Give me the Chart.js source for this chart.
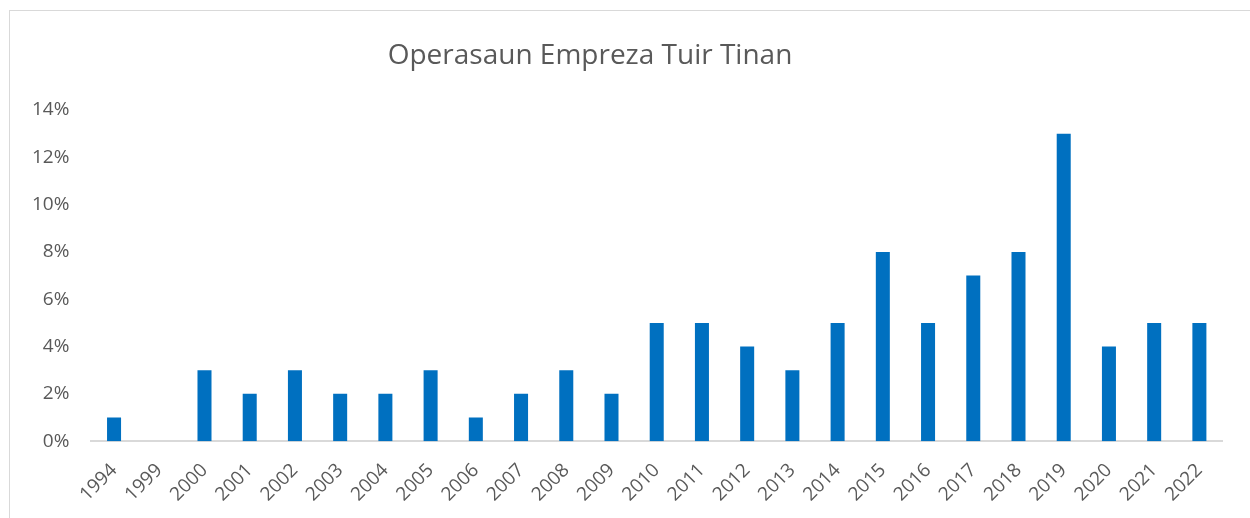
<!DOCTYPE html>
<html>
<head>
<meta charset="utf-8">
<script src="https://cdn.jsdelivr.net/npm/chart.js"></script>
<style>
    html, body { margin: 0; padding: 0; background: #fff; overflow: hidden; }
    .frame { position: absolute; left: 9px; top: 10px; width: 1300px; height: 600px; border: 1px solid #d9d9d9; }
    .wrap { position: absolute; left: 0; top: 0; width: 1250px; height: 518px; }
</style>
</head>
<body>
<div class="frame"></div>
<div class="wrap"><canvas id="chart"></canvas></div>
<script>
var YEARS = ['1994', '1999', '2000', '2001', '2002', '2003', '2004', '2005', '2006', '2007', '2008', '2009',
    '2010', '2011', '2012', '2013', '2014', '2015', '2016', '2017', '2018', '2019', '2020', '2021', '2022'];

// persentajen (%)
var VALUES = [1, 0, 3, 2, 3, 2, 2, 3, 1, 2, 3, 2, 5, 5, 4, 3, 5, 8, 5, 7, 8, 13, 4, 5, 5];

var Y_TICKS = [0, 2, 4, 6, 8, 10, 12, 14];

var TITLE = 'Operasaun Empreza Tuir Tinan';

var FONT = '"Open Sans", "Noto Sans", sans-serif';

// titulu iha klaran frame nian (frame luan liu janela)
var titlePlugin = {
    id: 'frameTitle',
    afterDraw: function (chart) {
        var ctx = chart.ctx;
        ctx.save();
        ctx.font = '28px ' + FONT;
        ctx.fillStyle = '#595959';
        ctx.textAlign = 'center';
        ctx.textBaseline = 'middle';
        ctx.fillText(TITLE, 590, 56);
        ctx.restore();
    }
};

var myChart = new Chart(document.getElementById('chart'), {
    type: 'bar',
    data: {
        labels: YEARS,
        datasets: [{
            label: 'Operasaun',
            data: VALUES,
            backgroundColor: '#0070c0',
            barPercentage: 0.62,
            categoryPercentage: 0.5
        }]
    },
    options: {
        responsive: true,
        maintainAspectRatio: false,
        animation: false,
        layout: {
            padding: { left: 18, right: 28, top: 110, bottom: 2 }
        },
        plugins: {
            legend: { display: false },
            tooltip: { enabled: false },
            title: { display: false }
        },
        scales: {
            x: {
                grid: { display: false },
                border: { display: true, color: '#d9d9d9', width: 2 },
                ticks: {
                    color: '#595959',
                    font: { family: FONT, size: 19 },
                    maxRotation: 45,
                    minRotation: 45,
                    padding: 10,
                    autoSkip: false
                }
            },
            y: {
                min: 0,
                max: 14,
                afterBuildTicks: function (axis) {
                    axis.ticks = Y_TICKS.map(function (v) { return { value: v }; });
                },
                grid: { display: false },
                border: { display: false },
                ticks: {
                    color: '#595959',
                    font: { family: FONT, size: 19 },
                    padding: 14,
                    callback: function (v) { return v + '%'; }
                }
            }
        }
    },
    plugins: [titlePlugin]
});
</script>
</body>
</html>
